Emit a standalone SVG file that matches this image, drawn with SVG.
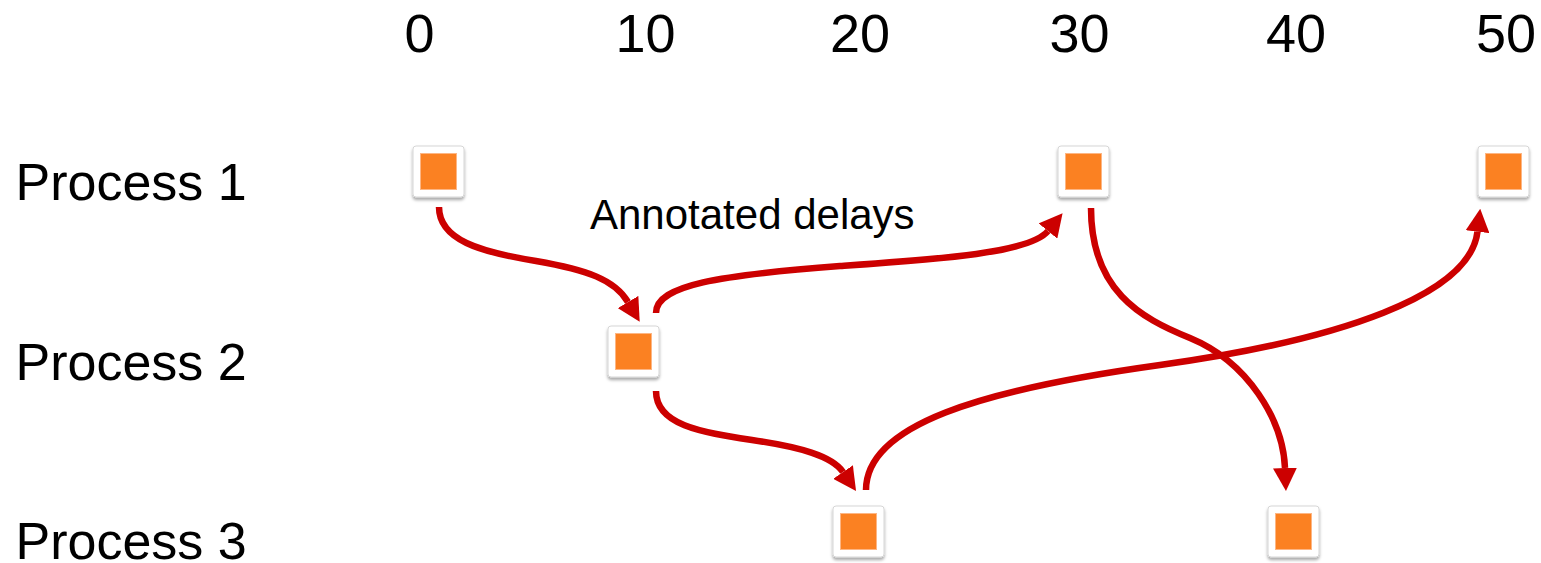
<svg xmlns="http://www.w3.org/2000/svg" width="1541" height="563" viewBox="0 0 1541 563">
  <style>
    .lbl { font-family: "Liberation Sans", Arial, sans-serif; fill: #000; }
    .axis { font-size: 54px; text-anchor: middle; }
    .proc { font-size: 52px; }
    .note { font-size: 42px; }
    .box { fill: #fff; stroke: #d6d6d6; stroke-width: 1; filter: url(#shadow); }
    .core { fill: #fb8122; stroke: #fdb684; stroke-width: 1; }
    .edge { fill: none; stroke: #cc0000; stroke-width: 6.5; marker-end: url(#head); }
  </style>
  <defs>
    <filter id="shadow" x="-20%" y="-20%" width="140%" height="150%">
      <feDropShadow dx="0" dy="2.5" stdDeviation="1.6" flood-color="#000" flood-opacity="0.35"/>
    </filter>
    <marker id="head" markerUnits="userSpaceOnUse" viewBox="0 0 23 24" markerWidth="23" markerHeight="24" refX="0" refY="12" orient="auto">
      <path d="M0,0 L23,12 L0,24 z" fill="#cc0000"/>
    </marker>
  </defs>

  <!-- time axis -->
  <g id="axis">
    <text class="lbl axis" x="419.5" y="52">0</text>
    <text class="lbl axis" x="645.5" y="52">10</text>
    <text class="lbl axis" x="860" y="52">20</text>
    <text class="lbl axis" x="1079.5" y="52">30</text>
    <text class="lbl axis" x="1296" y="52">40</text>
    <text class="lbl axis" x="1506" y="52">50</text>
  </g>

  <!-- process rows -->
  <g id="rows">
    <text class="lbl proc" x="15.5" y="200">Process 1</text>
    <text class="lbl proc" x="15.5" y="380">Process 2</text>
    <text class="lbl proc" x="15.5" y="559">Process 3</text>
  </g>

  <text id="annotation" class="lbl note" x="590" y="228.5">Annotated delays</text>

  <!-- message connectors -->
  <g id="connectors">
    <path class="edge" d="M439,207 C439,240 480,252 536,261 C588,270 615,280 628,302"/>
    <path class="edge" d="M656,313 C656,285 720,275 840,266 C940,259 1030,253 1048,231"/>
    <path class="edge" d="M656,391 C656,425 700,432 752,440 C800,447 832,456 843,472"/>
    <path class="edge" d="M866,490 C866,425 980,390 1160,365 C1340,340 1470,295 1477.5,231.7"/>
    <path class="edge" d="M1091,208 C1091,290 1140,318 1190,338 C1248,362 1283,420 1285,468"/>
  </g>

  <!-- events -->
  <g id="p1-t0"><rect class="box" x="413" y="146" width="51" height="51" rx="3"/><rect class="core" x="420.5" y="153.5" width="36" height="36"/></g>
  <g id="p1-t30"><rect class="box" x="1058" y="146" width="51" height="51" rx="3"/><rect class="core" x="1065.5" y="153.5" width="36" height="36"/></g>
  <g id="p1-t50"><rect class="box" x="1478" y="146" width="51" height="51" rx="3"/><rect class="core" x="1485.5" y="153.5" width="36" height="36"/></g>
  <g id="p2-t10"><rect class="box" x="608" y="326" width="51" height="51" rx="3"/><rect class="core" x="615.5" y="333.5" width="36" height="36"/></g>
  <g id="p3-t20"><rect class="box" x="833" y="506" width="51" height="51" rx="3"/><rect class="core" x="840.5" y="513.5" width="36" height="36"/></g>
  <g id="p3-t40"><rect class="box" x="1268" y="506" width="51" height="51" rx="3"/><rect class="core" x="1275.5" y="513.5" width="36" height="36"/></g>
</svg>
